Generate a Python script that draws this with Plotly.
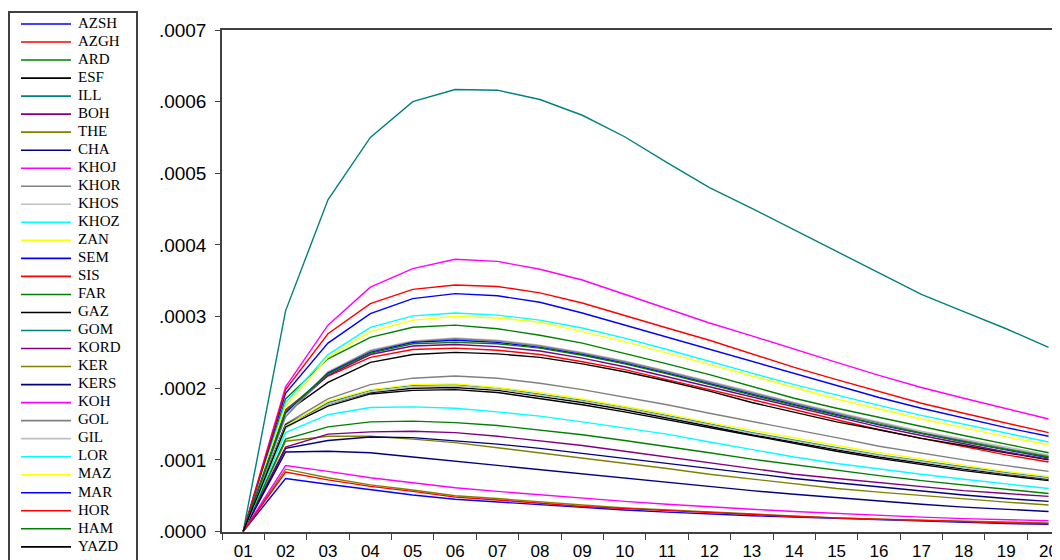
import plotly.graph_objects as go

# Periods (x categories)
periods = ["01", "02", "03", "04", "05", "06", "07", "08", "09", "10",
           "11", "12", "13", "14", "15", "16", "17", "18", "19", "20"]

# Series names in legend order
names = ["AZSH", "AZGH", "ARD", "ESF", "ILL", "BOH", "THE", "CHA", "KHOJ", "KHOR",
         "KHOS", "KHOZ", "ZAN", "SEM", "SIS", "FAR", "GAZ", "GOM", "KORD", "KER",
         "KERS", "KOH", "GOL", "GIL", "LOR", "MAZ", "MAR", "HOR", "HAM", "YAZD"]

colors = ["#0000FF", "#FF0000", "#008000", "#000000", "#008080", "#800080", "#808000", "#000080",
          "#FF00FF", "#808080", "#C0C0C0", "#00FFFF", "#FFFF00", "#0000FF", "#FF0000", "#008000",
          "#000000", "#008080", "#800080", "#808000", "#000080", "#FF00FF", "#808080", "#C0C0C0",
          "#00FFFF", "#FFFF00", "#0000FF", "#FF0000", "#008000", "#000000"]

# Values are read in units of 1e-4
UNIT = 1e-4
AZSH = [0, 0.74, 0.66, 0.58, 0.51, 0.45, 0.41, 0.37, 0.33, 0.30, 0.27, 0.24, 0.22, 0.20, 0.18, 0.16, 0.14, 0.13, 0.11, 0.10]
AZGH = [0, 1.70, 2.17, 2.43, 2.54, 2.56, 2.53, 2.47, 2.37, 2.26, 2.12, 1.98, 1.83, 1.69, 1.55, 1.42, 1.30, 1.18, 1.07, 0.97]
ARD  = [0, 1.85, 2.41, 2.71, 2.85, 2.88, 2.83, 2.74, 2.63, 2.49, 2.34, 2.19, 2.03, 1.86, 1.72, 1.59, 1.46, 1.34, 1.22, 1.10]
ESF  = [0, 1.66, 2.08, 2.36, 2.47, 2.50, 2.48, 2.43, 2.34, 2.23, 2.10, 1.96, 1.80, 1.66, 1.53, 1.42, 1.30, 1.20, 1.10, 1.00]
ILL  = [0, 3.08, 4.63, 5.50, 6.00, 6.17, 6.16, 6.03, 5.81, 5.51, 5.15, 4.80, 4.51, 4.21, 3.91, 3.61, 3.31, 3.07, 2.83, 2.57]
BOH  = [0, 1.64, 2.18, 2.47, 2.59, 2.61, 2.58, 2.52, 2.42, 2.30, 2.16, 2.02, 1.87, 1.73, 1.59, 1.46, 1.34, 1.22, 1.11, 1.01]
THE  = [0, 1.26, 1.33, 1.33, 1.29, 1.24, 1.17, 1.10, 1.03, 0.95, 0.88, 0.80, 0.73, 0.66, 0.60, 0.55, 0.50, 0.45, 0.41, 0.37]
CHA  = [0, 1.16, 1.27, 1.32, 1.31, 1.27, 1.22, 1.16, 1.09, 1.02, 0.95, 0.88, 0.81, 0.74, 0.68, 0.62, 0.56, 0.51, 0.46, 0.42]
KHOJ = [0, 2.02, 2.88, 3.41, 3.67, 3.80, 3.77, 3.66, 3.51, 3.31, 3.10, 2.91, 2.73, 2.54, 2.36, 2.18, 2.01, 1.86, 1.72, 1.57]
KHOR = [0, 1.50, 1.85, 2.05, 2.14, 2.17, 2.14, 2.07, 1.98, 1.88, 1.77, 1.65, 1.54, 1.42, 1.31, 1.19, 1.09, 1.00, 0.92, 0.84]
KHOS = [0, 1.63, 2.23, 2.53, 2.66, 2.70, 2.67, 2.60, 2.50, 2.38, 2.24, 2.10, 1.95, 1.80, 1.66, 1.53, 1.40, 1.29, 1.18, 1.07]
KHOZ = [0, 1.80, 2.47, 2.85, 3.01, 3.05, 3.02, 2.95, 2.84, 2.70, 2.54, 2.37, 2.21, 2.05, 1.90, 1.76, 1.62, 1.50, 1.37, 1.25]
ZAN  = [0, 1.75, 2.43, 2.79, 2.95, 3.00, 2.98, 2.92, 2.79, 2.65, 2.49, 2.33, 2.16, 2.00, 1.85, 1.71, 1.57, 1.45, 1.32, 1.21]
SEM  = [0, 1.93, 2.63, 3.04, 3.25, 3.32, 3.29, 3.20, 3.05, 2.88, 2.72, 2.54, 2.37, 2.20, 2.03, 1.87, 1.72, 1.58, 1.45, 1.33]
SIS  = [0, 1.98, 2.76, 3.18, 3.38, 3.44, 3.42, 3.33, 3.19, 3.01, 2.84, 2.67, 2.48, 2.29, 2.12, 1.95, 1.79, 1.65, 1.51, 1.38]
FAR  = [0, 1.29, 1.46, 1.53, 1.54, 1.52, 1.48, 1.42, 1.35, 1.27, 1.19, 1.10, 1.01, 0.93, 0.85, 0.78, 0.71, 0.65, 0.59, 0.53]
GAZ  = [0, 1.49, 1.78, 1.94, 2.00, 2.01, 1.97, 1.89, 1.80, 1.70, 1.59, 1.47, 1.35, 1.24, 1.14, 1.04, 0.95, 0.87, 0.80, 0.73]
GOM  = [0, 1.48, 1.80, 1.97, 2.04, 2.05, 2.00, 1.92, 1.83, 1.73, 1.62, 1.50, 1.38, 1.27, 1.17, 1.07, 0.98, 0.90, 0.82, 0.75]
KORD = [0, 1.18, 1.36, 1.39, 1.40, 1.38, 1.33, 1.27, 1.20, 1.12, 1.04, 0.96, 0.88, 0.80, 0.74, 0.68, 0.62, 0.57, 0.53, 0.49]
KER  = [0, 0.87, 0.75, 0.65, 0.58, 0.50, 0.46, 0.41, 0.37, 0.33, 0.30, 0.27, 0.24, 0.22, 0.19, 0.17, 0.16, 0.14, 0.13, 0.12]
KERS = [0, 1.11, 1.12, 1.10, 1.04, 0.98, 0.92, 0.86, 0.80, 0.74, 0.68, 0.62, 0.57, 0.52, 0.47, 0.42, 0.38, 0.34, 0.31, 0.28]
KOH  = [0, 0.92, 0.84, 0.75, 0.68, 0.61, 0.56, 0.51, 0.46, 0.42, 0.38, 0.34, 0.31, 0.28, 0.25, 0.22, 0.20, 0.18, 0.16, 0.15]
GOL  = [0, 1.60, 2.22, 2.52, 2.65, 2.69, 2.66, 2.59, 2.49, 2.37, 2.23, 2.08, 1.93, 1.79, 1.65, 1.51, 1.38, 1.27, 1.16, 1.05]
GIL  = [0, 1.44, 1.78, 1.95, 2.02, 2.03, 1.99, 1.91, 1.82, 1.72, 1.61, 1.49, 1.37, 1.26, 1.16, 1.06, 0.97, 0.89, 0.81, 0.74]
LOR  = [0, 1.38, 1.63, 1.73, 1.74, 1.72, 1.67, 1.61, 1.53, 1.45, 1.36, 1.25, 1.14, 1.04, 0.95, 0.87, 0.80, 0.73, 0.66, 0.60]
MAZ  = [0, 1.47, 1.82, 1.98, 2.05, 2.06, 2.01, 1.94, 1.85, 1.75, 1.64, 1.52, 1.41, 1.30, 1.20, 1.10, 1.01, 0.92, 0.84, 0.77]
MAR  = [0, 1.66, 2.21, 2.50, 2.64, 2.67, 2.64, 2.57, 2.47, 2.35, 2.21, 2.06, 1.91, 1.77, 1.63, 1.49, 1.37, 1.25, 1.14, 1.03]
HOR  = [0, 0.83, 0.72, 0.63, 0.56, 0.48, 0.44, 0.39, 0.35, 0.32, 0.29, 0.26, 0.23, 0.21, 0.19, 0.17, 0.15, 0.14, 0.12, 0.11]
HAM  = [0, 1.68, 2.20, 2.49, 2.62, 2.64, 2.62, 2.56, 2.46, 2.34, 2.20, 2.05, 1.90, 1.76, 1.62, 1.49, 1.37, 1.25, 1.14, 1.04]
YAZD = [0, 1.46, 1.75, 1.92, 1.97, 1.98, 1.94, 1.86, 1.77, 1.67, 1.56, 1.44, 1.33, 1.22, 1.12, 1.02, 0.93, 0.85, 0.78, 0.71]

series = [AZSH, AZGH, ARD, ESF, ILL, BOH, THE, CHA, KHOJ, KHOR, KHOS, KHOZ, ZAN, SEM, SIS,
          FAR, GAZ, GOM, KORD, KER, KERS, KOH, GOL, GIL, LOR, MAZ, MAR, HOR, HAM, YAZD]

y_tickvals = [0, 0.0001, 0.0002, 0.0003, 0.0004, 0.0005, 0.0006, 0.0007]
y_ticktext = [".0000", ".0001", ".0002", ".0003", ".0004", ".0005", ".0006", ".0007"]

# The page body adds an 8px margin, so the figure is 8px smaller than the window
W, H = 1052, 552
AXC = "#404040"
YTICKFONT = dict(family="Liberation Sans, Arial, sans-serif", size=19, color="#000000")
XTICKFONT = dict(family="Liberation Sans, Arial, sans-serif", size=17, color="#000000")

fig = go.Figure()
for name, vals, col in zip(names, series, colors):
    fig.add_trace(go.Scatter(
        x=periods, y=[v * UNIT for v in vals], mode="lines", name=name,
        line=dict(color=col, width=1.4), showlegend=False, hoverinfo="skip",
        xaxis="x", yaxis="y"))

# Legend drawn in its own small subplot (one sample line + label per series)
for i, (name, col) in enumerate(zip(names, colors)):
    fig.add_trace(go.Scatter(
        x=[11, 61], y=[i, i], mode="lines", line=dict(color=col, width=1.6),
        showlegend=False, hoverinfo="skip", xaxis="x2", yaxis="y2"))
fig.add_trace(go.Scatter(
    x=[68] * len(names), y=list(range(len(names))), mode="text", text=names,
    textposition="middle right",
    textfont=dict(family="Liberation Serif, Times New Roman, serif", size=15, color="#000000"),
    showlegend=False, hoverinfo="skip", xaxis="x2", yaxis="y2"))

fig.update_layout(
    width=W, height=H,
    margin=dict(l=0, r=0, t=0, b=0, autoexpand=False),
    paper_bgcolor="white", plot_bgcolor="white",
    font=dict(family="Liberation Sans, Arial, sans-serif", size=16, color="#000000"),
    xaxis=dict(
        type="category", categoryorder="array", categoryarray=periods,
        domain=[214 / W, 1.0], range=[-0.5, 19.27],
        showline=True, linecolor=AXC, linewidth=1.5, mirror=True,
        ticks="outside", tickson="boundaries", ticklen=7, tickcolor=AXC, tickwidth=1.3,
        ticklabelstandoff=3,
        showgrid=False, zeroline=False, tickfont=XTICKFONT, anchor="y"),
    yaxis=dict(
        domain=[(H - 523.5) / H, (H - 22) / H], range=[0, 0.0007],
        tickvals=y_tickvals, ticktext=y_ticktext,
        showline=True, linecolor=AXC, linewidth=1.5, mirror=False,
        ticks="outside", ticklen=5, tickcolor=AXC, tickwidth=1.3,
        ticklabelstandoff=5,
        showgrid=False, zeroline=False, tickfont=YTICKFONT, anchor="x"),
    xaxis2=dict(
        domain=[2 / W, 128 / W], range=[0, 126], side="top",
        showline=True, linecolor=AXC, linewidth=1.5, mirror=False,
        showticklabels=False, ticks="", showgrid=False, zeroline=False,
        fixedrange=True, anchor="y2"),
    yaxis2=dict(
        domain=[0, (H - 5) / H], range=[29.73, -0.61],
        showline=True, linecolor=AXC, linewidth=1.5, mirror=True,
        showticklabels=False, ticks="", showgrid=False, zeroline=False,
        fixedrange=True, anchor="x2"),
    showlegend=False,
)

fig.write_html("out.html")
